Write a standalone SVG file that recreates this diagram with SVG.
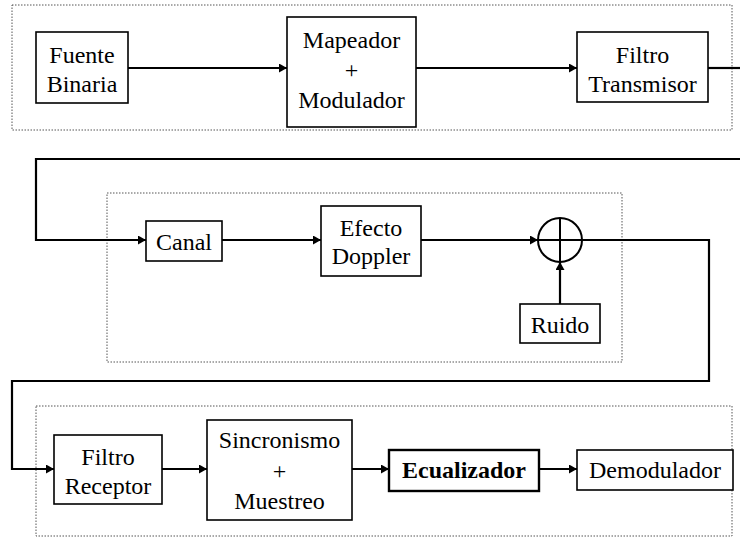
<svg xmlns="http://www.w3.org/2000/svg" width="740" height="540" viewBox="0 0 740 540" font-family="Liberation Serif, DejaVu Serif, serif">
<defs>
<style>
.frame{fill:none;stroke:#555;stroke-width:1;stroke-dasharray:1.5 1.5}
.box{fill:#fff;stroke:#000;stroke-width:1.6}
.bold{stroke-width:2.4}
.wire{fill:none;stroke:#000;stroke-width:2.2}
text{font-size:24px;fill:#000;text-anchor:middle}
.b{font-weight:bold}
</style>
<marker id="ah" markerUnits="userSpaceOnUse" markerWidth="9" markerHeight="10" refX="8" refY="4.5" orient="auto">
<path d="M0,0 L8,4.5 L0,9 z" fill="#000"/>
</marker>
</defs>
<rect width="740" height="540" fill="#fff"/>
<g id="frames">
<rect class="frame" x="12" y="5" width="720" height="125"/>
<rect class="frame" x="107" y="193" width="515" height="169"/>
<rect class="frame" x="36" y="406" width="696" height="130"/>
</g>
<g id="connectors">
<line class="wire" x1="128" y1="68" x2="287" y2="68" marker-end="url(#ah)"/>
<line class="wire" x1="416" y1="68" x2="577" y2="68" marker-end="url(#ah)"/>
<line class="wire" x1="708" y1="68" x2="740" y2="68"/>
<polyline class="wire" points="740,159 36,159 36,240 146,240" marker-end="url(#ah)"/>
<line class="wire" x1="222" y1="240" x2="321" y2="240" marker-end="url(#ah)"/>
<line class="wire" x1="421" y1="240" x2="538" y2="240" marker-end="url(#ah)"/>
<line class="wire" x1="560" y1="304" x2="560" y2="262" marker-end="url(#ah)"/>
<polyline class="wire" points="582,240 709,240 709,381 12,381 12,469 54,469" marker-end="url(#ah)"/>
<line class="wire" x1="162" y1="469" x2="207" y2="469" marker-end="url(#ah)"/>
<line class="wire" x1="352" y1="469" x2="389" y2="469" marker-end="url(#ah)"/>
<line class="wire" x1="539" y1="469" x2="577" y2="469" marker-end="url(#ah)"/>
</g>
<g id="fuente">
<rect class="box" x="36" y="32" width="92" height="71"/>
<text x="82" y="63" font-family="Liberation Serif, serif">Fuente</text>
<text x="82" y="92" font-family="Liberation Serif, serif">Binaria</text>
</g>
<g id="mapeador">
<rect class="box" x="287" y="17" width="129" height="110"/>
<text x="351.5" y="48">Mapeador</text>
<text x="351.5" y="78">+</text>
<text x="351.5" y="108">Modulador</text>
</g>
<g id="filtro-tx">
<rect class="box" x="577" y="32" width="131" height="70"/>
<text x="642.5" y="63">Filtro</text>
<text x="642.5" y="92">Transmisor</text>
</g>
<g id="canal">
<rect class="box" x="146" y="221" width="76" height="40"/>
<text x="184" y="250">Canal</text>
</g>
<g id="doppler">
<rect class="box" x="321" y="206" width="100" height="70"/>
<text x="371" y="236">Efecto</text>
<text x="371" y="264">Doppler</text>
</g>
<g id="sumador">
<circle cx="560" cy="240" r="22" fill="none" stroke="#000" stroke-width="2"/>
<line x1="538" y1="240" x2="582" y2="240" stroke="#000" stroke-width="2"/>
<line x1="560" y1="218" x2="560" y2="262" stroke="#000" stroke-width="2"/>
</g>
<g id="ruido">
<rect class="box" x="520" y="304" width="80" height="39"/>
<text x="560" y="333">Ruido</text>
</g>
<g id="filtro-rx">
<rect class="box" x="54" y="435" width="108" height="69"/>
<text x="108" y="465">Filtro</text>
<text x="108" y="494">Receptor</text>
</g>
<g id="sincronismo">
<rect class="box" x="207" y="420" width="145" height="100"/>
<text x="279.5" y="448">Sincronismo</text>
<text x="279.5" y="479">+</text>
<text x="279.5" y="509">Muestreo</text>
</g>
<g id="ecualizador">
<rect class="box bold" x="389" y="450" width="150" height="41"/>
<text class="b" x="464" y="478">Ecualizador</text>
</g>
<g id="demodulador">
<rect class="box" x="577" y="450" width="156" height="40"/>
<text x="655" y="478">Demodulador</text>
</g>
</svg>
